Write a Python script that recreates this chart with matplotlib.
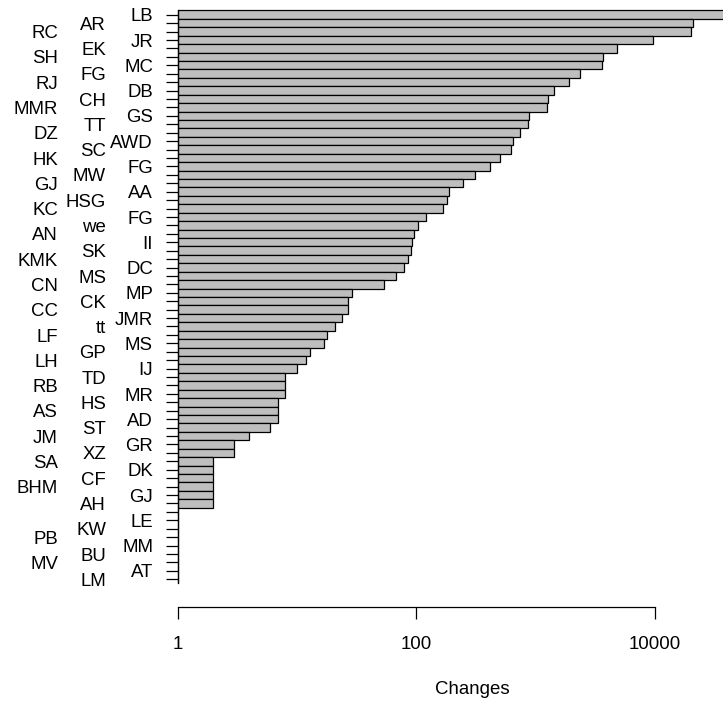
import numpy as np
import matplotlib
matplotlib.use("Agg")
import matplotlib.pyplot as plt
from matplotlib.transforms import ScaledTranslation

plt.rcParams['font.family'] = ['Liberation Sans', 'DejaVu Sans']

# Names in the order they are drawn, top to bottom
names = ["LB", "AR", "RC", "JR", "EK", "SH", "MC", "FG", "RJ", "DB",
         "CH", "MMR", "GS", "TT", "DZ", "AWD", "SC", "HK", "FG", "MW",
         "GJ", "AA", "HSG", "KC", "FG", "we", "AN", "II", "SK", "KMK",
         "DC", "MS", "CN", "MP", "CK", "CC", "JMR", "tt", "LF", "MS",
         "GP", "LH", "IJ", "TD", "RB", "MR", "HS", "AS", "AD", "ST",
         "JM", "GR", "XZ", "SA", "DK", "CF", "BHM", "GJ", "AH", "",
         "LE", "KW", "PB", "MM", "BU", "MV", "AT", "LM"]

changes = [40000, 21200, 20200, 9640, 4890, 3730, 3660, 2380, 1930, 1445,
           1285, 1257, 888, 876, 746, 651, 632, 506, 414, 310,
           248, 188, 183, 169, 121, 103, 97, 93, 91, 85,
           80, 68, 54, 29, 27, 27, 24, 21, 18, 17,
           13, 12, 10, 8, 8, 8, 7, 7, 7, 6,
           4, 3, 3, 2, 2, 2, 2, 2, 2, 1,
           1, 1, 1, 1, 1, 1, 1, 1]

xticks = [1, 100, 10000]
xtick_labels = ["1", "100", "10000"]

W, H = 723, 706
fig = plt.figure(figsize=(W / 100, H / 100), dpi=100)
fs = 13.4

n = len(changes)
left_px, right_px = 177.5, 654.5
top_px, bot_px = 10.5, 583.5
ax = fig.add_axes([left_px / W, 1 - bot_px / H,
                   (right_px - left_px) / W, (bot_px - top_px) / H])

pos = np.arange(1, n + 1)
vals = np.array(changes, dtype=float)
ax.barh(pos, vals - 1, left=1, height=1.0, color='#bebebe',
        edgecolor='black', linewidth=0.9, clip_on=False)

ax.set_xscale('log')
ax.set_xlim(1, 10000)
ax.set_ylim(n + 0.5, 0.5)

for s in ['top', 'right']:
    ax.spines[s].set_visible(False)
ax.spines['left'].set_linewidth(0.9)
ax.spines['bottom'].set_linewidth(0.9)
ax.spines['bottom'].set_position(('outward', 16.6))
ax.spines['bottom'].set_bounds(1, 10000)

ax.set_xticks(xticks)
ax.set_xticklabels(xtick_labels)
ax.xaxis.set_minor_locator(matplotlib.ticker.NullLocator())
ax.tick_params(axis='x', length=8.4, width=0.9, pad=12.5, labelsize=fs)

ax.set_yticks(pos)
ax.set_yticklabels([])
ax.tick_params(axis='y', length=8.3, width=0.9)

# staggered name labels in three columns
col_right = [153, 106, 58]
trans = ax.get_yaxis_transform() + ScaledTranslation(0, -6.6 / 100, fig.dpi_scale_trans)
for i, name in enumerate(names):
    xr = (col_right[i % 3] - left_px) / (right_px - left_px)
    ax.text(xr, pos[i], name, transform=trans, ha='right', va='baseline',
            fontsize=fs, clip_on=False)

fig.text(472 / W, 1 - 690 / H, "Changes", ha='center', va='center', fontsize=fs)

fig.savefig("out.png", dpi=100)
